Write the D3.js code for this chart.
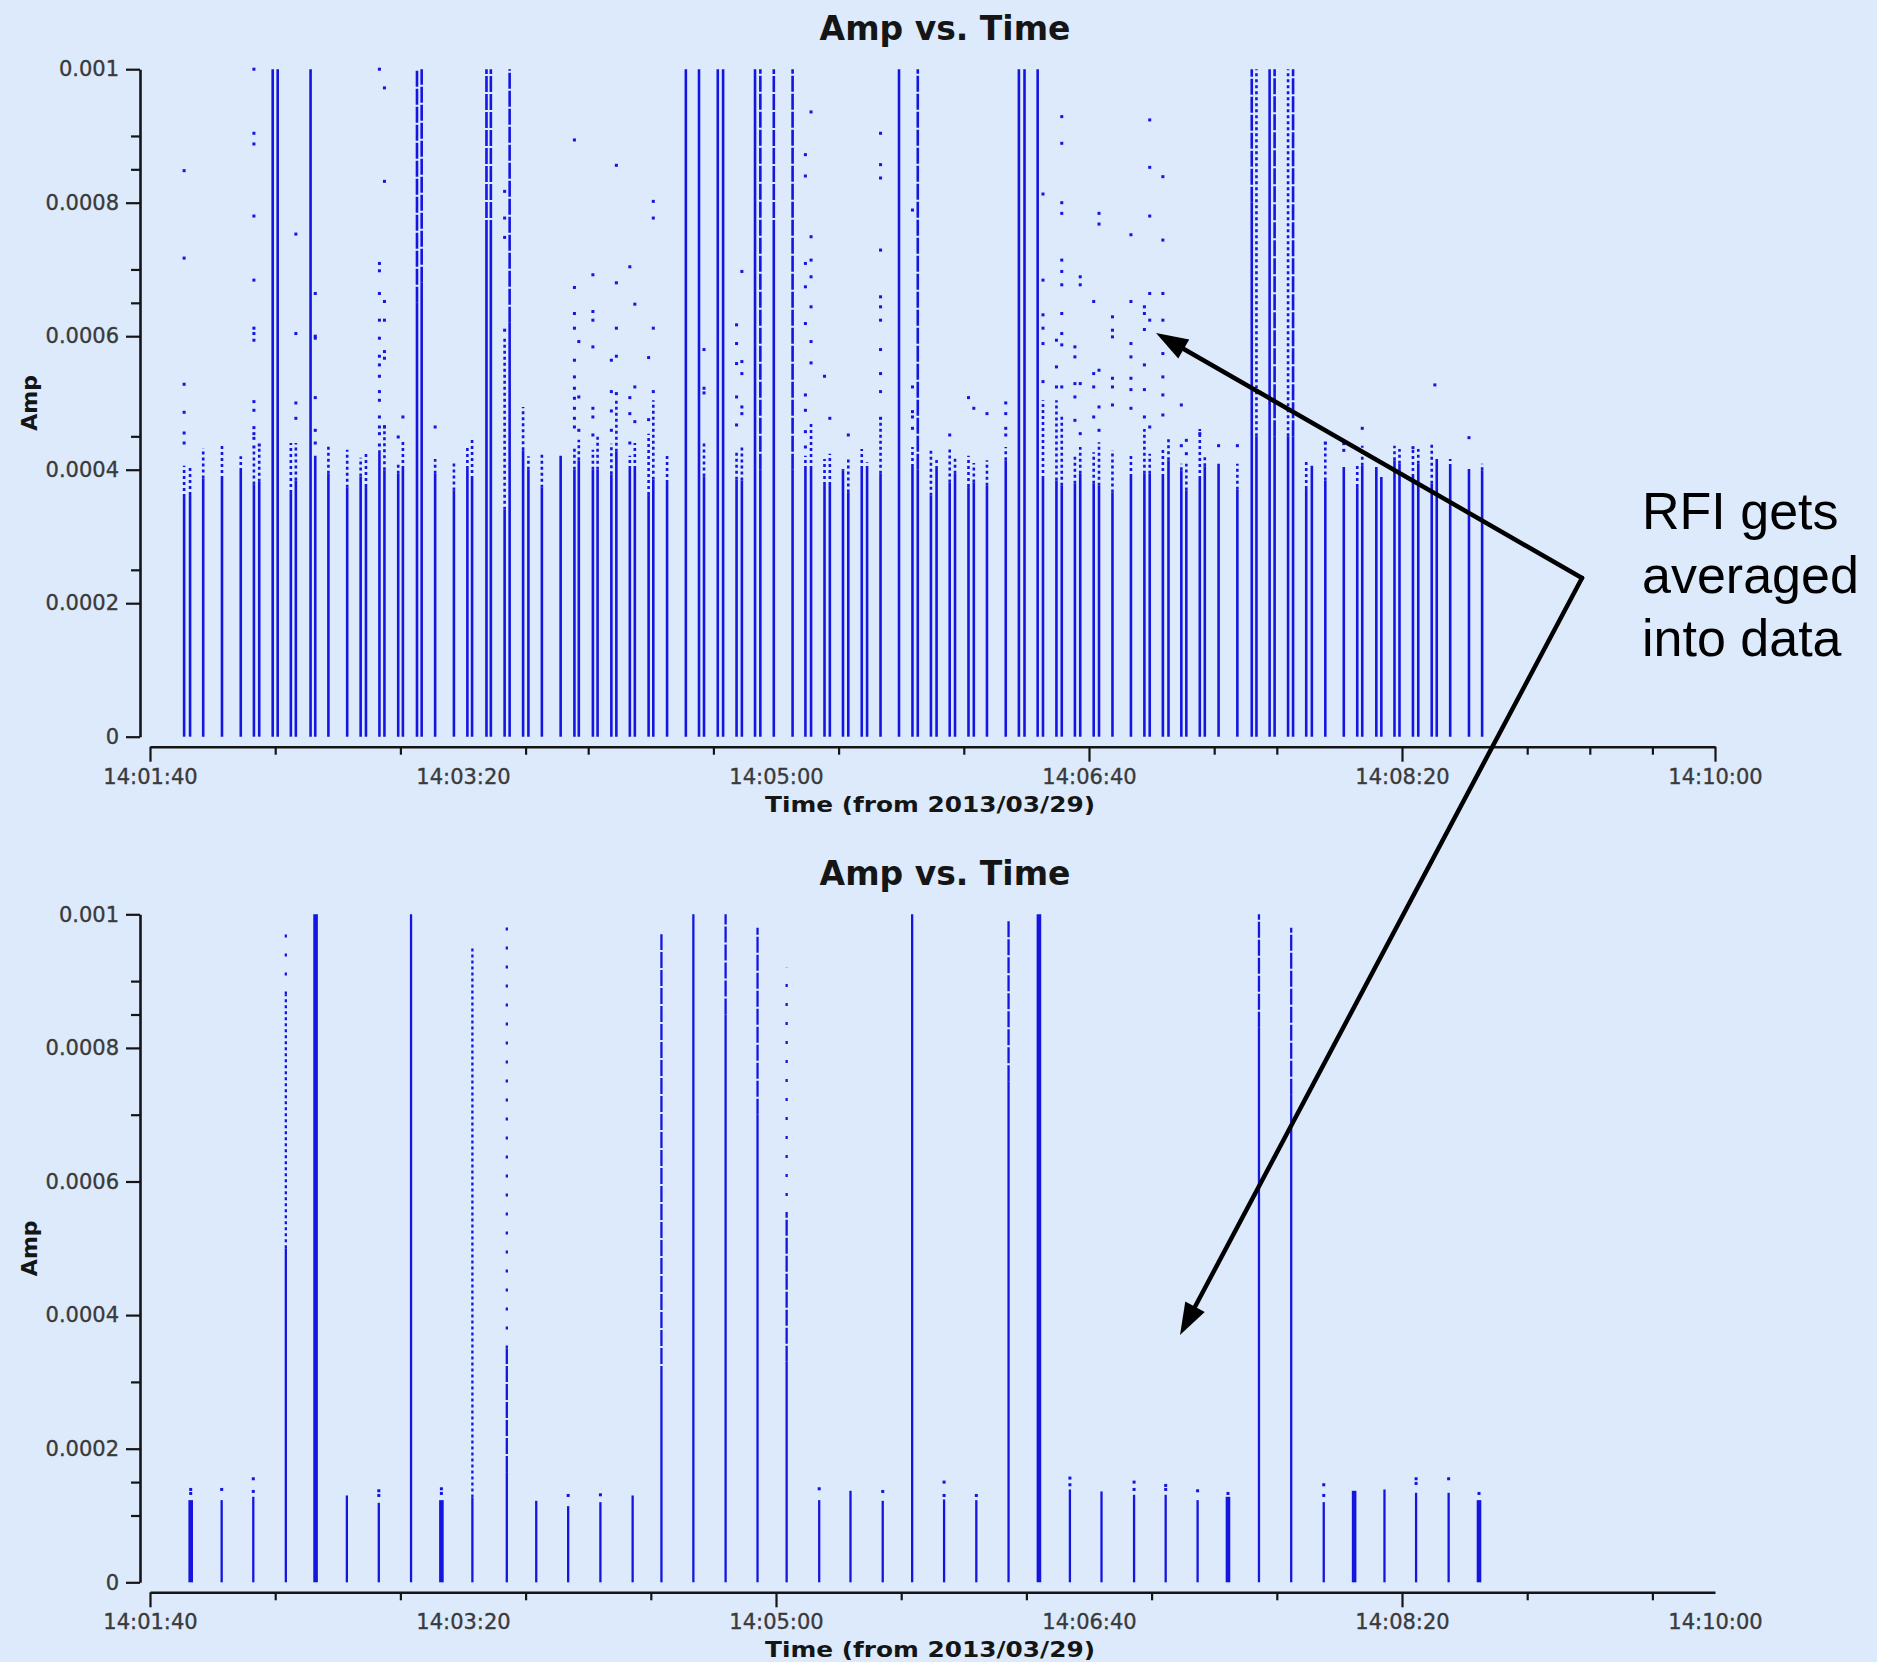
<!DOCTYPE html>
<html>
<head>
<meta charset="utf-8">
<script src="https://cdn.jsdelivr.net/npm/d3@7"></script>
<style>
  html, body { margin: 0; padding: 0; background: #dceafc; }
  svg { display: block; }
</style>
</head>
<body>
<svg id="chart" width="1877" height="1662"></svg>
<script>
// Time is given in seconds after 14:01:40 (2013/03/29).
const timeLabelSec = [0, 100, 200, 300, 400, 500];
const timeLabels = ["14:01:40", "14:03:20", "14:05:00", "14:06:40", "14:08:20", "14:10:00"];
const topMajorXTicks = [0, 300, 400, 500];
const topMinorXTicks = [40, 80, 120, 140, 180, 220, 260, 340, 360, 440, 460, 480];
const botMajorXTicks = [0, 200, 400];
const botMinorXTicks = [40, 80, 120, 160, 240, 280, 320, 360, 440, 480];

const yMajorTicks = [0, 0.0002, 0.0004, 0.0006, 0.0008, 0.001];
const yMajorLabels = ["0", "0.0002", "0.0004", "0.0006", "0.0008", "0.001"];
const topYMinorTicks = [0.00025, 0.00045, 0.00065, 0.0007, 0.00085, 0.0009];
const botYMinorTicks = [0.0001, 0.00015, 0.0003, 0.0007, 0.00085, 0.0009];

// Unaveraged data: [time, top of solid run, top of dotted run]
const topColumns = [
  [10.9, 0.000359, 0.000406], [12.8, 0.000362, 0.000405], [17.0, 0.000387, 0.000432],
  [23.0, 0.000386, 0.00044], [29.0, 0.000398, 0.00042], [33.2, 0.000378, 0.00043],
  [34.9, 0.000382, 0.000437], [45.0, 0.000365, 0.00044], [46.6, 0.000384, 0.00044],
  [52.8, 0.000421, 0.000421], [57.0, 0.000394, 0.000437], [63.0, 0.000373, 0.00043],
  [67.3, 0.00039, 0.000418], [69.0, 0.000374, 0.000425], [73.3, 0.000429, 0.000429],
  [74.9, 0.000399, 0.000469], [79.3, 0.000394, 0.000411], [80.8, 0.000401, 0.000444],
  [91.1, 0.000394, 0.000416], [97.1, 0.000369, 0.000411], [101.4, 0.000401, 0.000436],
  [102.9, 0.000386, 0.000445], [113.3, 0.00034, 0.0006], [119.2, 0.000429, 0.000494],
  [120.9, 0.0004, 0.00042], [125.2, 0.000373, 0.000424], [131.2, 0.000421, 0.000421],
  [135.6, 0.0004, 0.000432], [137.0, 0.000414, 0.000445], [141.5, 0.0004, 0.00043],
  [143.0, 0.0004, 0.000452], [147.4, 0.000393, 0.000439], [149.0, 0.000427, 0.000504],
  [153.3, 0.000401, 0.000421], [154.9, 0.000401, 0.00044], [159.3, 0.000362, 0.000454],
  [160.8, 0.000385, 0.000504], [165.2, 0.00038, 0.000425], [177.0, 0.00039, 0.000442],
  [187.4, 0.000385, 0.000427], [189.1, 0.000384, 0.000434], [209.4, 0.000401, 0.000421],
  [211.2, 0.000401, 0.000469], [215.5, 0.000377, 0.000416], [217.2, 0.000377, 0.000424],
  [221.4, 0.000399, 0.000401], [223.1, 0.000366, 0.000416], [227.4, 0.000401, 0.000431],
  [229.1, 0.000401, 0.000411], [233.4, 0.000394, 0.000475], [243.6, 0.000404, 0.000434],
  [249.5, 0.000361, 0.000429], [251.3, 0.000401, 0.000415], [255.5, 0.000381, 0.000434],
  [257.2, 0.000394, 0.000421], [261.5, 0.000374, 0.000421], [263.2, 0.000381, 0.00041],
  [267.4, 0.000376, 0.000414], [273.4, 0.000414, 0.000434], [285.3, 0.000386, 0.000504],
  [289.6, 0.000384, 0.000504], [291.3, 0.000376, 0.000484], [295.5, 0.000379, 0.000421],
  [297.2, 0.000394, 0.000434], [301.5, 0.000379, 0.000426], [303.2, 0.000376, 0.000441],
  [307.5, 0.000366, 0.000429], [313.4, 0.000389, 0.000424], [317.7, 0.000394, 0.000461],
  [319.4, 0.000394, 0.000424], [323.6, 0.000389, 0.000434], [325.4, 0.000414, 0.000449],
  [329.5, 0.000399, 0.000409], [331.1, 0.000369, 0.000409], [335.4, 0.000386, 0.000461],
  [337.0, 0.000405, 0.00042], [341.4, 0.000409, 0.000409], [347.4, 0.00037, 0.000409],
  [369.4, 0.000371, 0.000416], [371.2, 0.000406, 0.000406], [375.5, 0.000384, 0.000441],
  [381.4, 0.000404, 0.000404], [385.7, 0.000374, 0.000409], [387.3, 0.000406, 0.000436],
  [391.8, 0.000404, 0.000404], [393.4, 0.000389, 0.000389], [397.6, 0.000414, 0.000436],
  [399.2, 0.000409, 0.000431], [403.5, 0.000389, 0.000431], [405.2, 0.000409, 0.000431],
  [409.5, 0.000379, 0.000441], [411.1, 0.000416, 0.000416], [415.4, 0.000404, 0.000416],
  [421.4, 0.000401, 0.000401], [425.6, 0.000399, 0.000409]
];

// RFI-hit integrations running off the top: [time, solid up to, style above]
const topSpikes = [
  [39.2, 0.001, "solid"], [40.8, 0.001, "solid"], [51.3, 0.001, "solid"],
  [85.3, 0.00065, "dashed"], [86.8, 0.00068, "dashed"],
  [107.5, 0.00075, "dashed"], [108.9, 0.00075, "dashed"], [114.9, 0.00062, "dashed"],
  [171.2, 0.001, "solid"], [175.4, 0.001, "solid"], [181.4, 0.001, "solid"], [183.1, 0.001, "solid"],
  [193.3, 0.001, "solid"], [195.0, 0.0004, "dashed"], [199.3, 0.00075, "dashed"], [205.3, 0.0004, "dashed"],
  [239.3, 0.001, "solid"], [245.3, 0.0004, "dashed"],
  [277.6, 0.001, "solid"], [279.4, 0.001, "solid"], [283.6, 0.001, "solid"],
  [352.0, 0.0008, "dashed"], [353.5, 0.00045, "dotted"], [357.7, 0.001, "solid"],
  [359.3, 0.00045, "dashed"], [363.6, 0.00045, "dotted"], [365.2, 0.00045, "dashed"]
];

// Isolated points above the dotted runs: [time, amp]
const topDots = [
  [10.9, 0.000848], [10.9, 0.000717], [10.9, 0.000528], [10.9, 0.000486], [10.9, 0.000455], [10.9, 0.00044],
  [33.2, 0.001], [33.2, 0.000904], [33.2, 0.000888], [33.2, 0.00078], [33.2, 0.000684], [33.2, 0.000612],
  [33.2, 0.000604], [33.2, 0.000594], [33.2, 0.000502], [33.2, 0.000489], [33.2, 0.000463], [33.2, 0.000454],
  [33.2, 0.000447], [33.2, 0.000434], [34.9, 0.000437],
  [46.6, 0.000753], [46.6, 0.000604], [46.6, 0.0005], [46.6, 0.000477],
  [52.8, 0.000664], [52.8, 0.0006], [52.8, 0.000597], [52.8, 0.000508], [52.8, 0.000459], [52.8, 0.00044],
  [73.3, 0.001], [73.3, 0.000709], [73.3, 0.000698], [73.3, 0.000664], [73.3, 0.000624], [73.3, 0.000597],
  [73.3, 0.00057], [73.3, 0.000557], [73.3, 0.00054], [73.3, 0.000517], [73.3, 0.000504], [73.3, 0.000479],
  [73.3, 0.000464], [73.3, 0.000454], [73.3, 0.000437],
  [74.9, 0.000972], [74.9, 0.000832], [74.9, 0.000652], [74.9, 0.000624], [74.9, 0.000577], [74.9, 0.000567], [74.9, 0.000464],
  [79.3, 0.000449], [80.8, 0.000479], [91.1, 0.000464],
  [113.3, 0.000817], [113.3, 0.000777], [113.3, 0.000748], [113.3, 0.000609],
  [135.6, 0.000894], [135.6, 0.000673], [135.6, 0.000634], [135.6, 0.000612], [135.6, 0.000564], [135.6, 0.000539],
  [135.6, 0.000522], [135.6, 0.000507], [135.6, 0.000492], [135.6, 0.000477], [135.6, 0.000464],
  [137.0, 0.000592], [137.0, 0.000509], [137.0, 0.000459],
  [141.5, 0.000692], [141.5, 0.000637], [141.5, 0.000624], [141.5, 0.000584], [141.5, 0.000492], [141.5, 0.000479], [141.5, 0.000452],
  [147.4, 0.000564], [147.4, 0.000517], [147.4, 0.000488], [147.4, 0.000459],
  [149.0, 0.000856], [149.0, 0.00068], [149.0, 0.000612], [149.0, 0.00057], [149.0, 0.000514],
  [153.3, 0.000704], [153.3, 0.000508], [153.3, 0.000484], [153.3, 0.00044],
  [154.9, 0.000648], [154.9, 0.000524], [154.9, 0.000472],
  [159.3, 0.000568], [159.3, 0.000475],
  [160.8, 0.000802], [160.8, 0.000777], [160.8, 0.000612], [160.8, 0.000517],
  [177.0, 0.00058], [177.0, 0.000522], [177.0, 0.000515],
  [187.4, 0.000617], [187.4, 0.000589], [187.4, 0.000559], [187.4, 0.000509], [187.4, 0.000467],
  [189.1, 0.000697], [189.1, 0.000562], [189.1, 0.000544], [189.1, 0.000494], [189.1, 0.000484],
  [209.4, 0.000872], [209.4, 0.00084], [209.4, 0.000709], [209.4, 0.000674], [209.4, 0.000619], [209.4, 0.000512],
  [209.4, 0.000489], [209.4, 0.000457], [209.4, 0.000434],
  [211.2, 0.000936], [211.2, 0.000749], [211.2, 0.000714], [211.2, 0.000689], [211.2, 0.000644], [211.2, 0.000592], [211.2, 0.00056],
  [215.5, 0.00054], [217.2, 0.000477], [223.1, 0.000452],
  [233.4, 0.000904], [233.4, 0.000857], [233.4, 0.000837], [233.4, 0.000729], [233.4, 0.000659], [233.4, 0.000644],
  [233.4, 0.000624], [233.4, 0.00058], [233.4, 0.000544], [233.4, 0.000517], [233.4, 0.000477],
  [243.6, 0.000789], [243.6, 0.000524], [243.6, 0.000487], [243.6, 0.000479], [243.6, 0.000462],
  [255.5, 0.000452], [261.5, 0.000508], [263.2, 0.000492], [267.4, 0.000484],
  [273.4, 0.0005], [273.4, 0.000484], [273.4, 0.000462], [273.4, 0.000452],
  [285.3, 0.000813], [285.3, 0.000684], [285.3, 0.000632], [285.3, 0.000612], [285.3, 0.000589], [285.3, 0.000532],
  [289.6, 0.000594], [289.6, 0.000554], [289.6, 0.000524],
  [291.3, 0.000929], [291.3, 0.000889], [291.3, 0.0008], [291.3, 0.000784], [291.3, 0.000714], [291.3, 0.000697],
  [291.3, 0.000677], [291.3, 0.000634], [291.3, 0.000604], [291.3, 0.000587], [291.3, 0.000524],
  [295.5, 0.000584], [295.5, 0.000569], [295.5, 0.000529], [295.5, 0.000509], [295.5, 0.000474],
  [297.2, 0.000689], [297.2, 0.000677], [297.2, 0.000529], [297.2, 0.000454],
  [301.5, 0.000652], [301.5, 0.000544], [301.5, 0.000524], [301.5, 0.000479],
  [303.2, 0.000784], [303.2, 0.000768], [303.2, 0.000549], [303.2, 0.000494], [303.2, 0.000459],
  [307.5, 0.000629], [307.5, 0.000609], [307.5, 0.000599], [307.5, 0.000537], [307.5, 0.000524], [307.5, 0.000497],
  [313.4, 0.000752], [313.4, 0.000652], [313.4, 0.000589], [313.4, 0.000569], [313.4, 0.000537], [313.4, 0.00052], [313.4, 0.000492],
  [317.7, 0.000644], [317.7, 0.000634], [317.7, 0.00061], [317.7, 0.000557], [317.7, 0.00052], [317.7, 0.000479],
  [319.4, 0.000924], [319.4, 0.000853], [319.4, 0.00078], [319.4, 0.000664], [319.4, 0.000624], [319.4, 0.000464],
  [323.6, 0.000839], [323.6, 0.000744], [323.6, 0.000664], [323.6, 0.000624], [323.6, 0.000574], [323.6, 0.000539],
  [323.6, 0.000512], [323.6, 0.000482],
  [329.5, 0.000497], [329.5, 0.000436], [331.1, 0.000444], [331.1, 0.000424], [335.4, 0.000454],
  [341.4, 0.000436], [347.4, 0.000436], [375.5, 0.00044], [381.4, 0.000429], [381.4, 0.000439],
  [387.3, 0.000462], [403.5, 0.000433], [410.5, 0.000527], [421.4, 0.000448]
];

// Averaged data: [time, top of solid run]
const botColumns = [
  [13.0, 0.000123], [22.9, 0.000123], [33.0, 0.000128], [43.4, 0.0005], [52.9, 0.001],
  [62.9, 0.00013], [73.1, 0.000119], [83.4, 0.001], [93.1, 0.000123], [103.0, 0.000127],
  [114.0, 0.000165], [123.4, 0.000122], [133.6, 0.000114], [143.9, 0.00012], [154.2, 0.00013],
  [163.4, 0.0003], [173.6, 0.001], [183.9, 0.00085], [194.1, 0.0007], [203.4, 0.00033],
  [213.8, 0.000123], [223.8, 0.000137], [234.1, 0.000122], [243.5, 0.001], [253.7, 0.000124],
  [264.0, 0.000123], [274.3, 0.00075], [284.0, 0.001], [293.9, 0.000139], [304.0, 0.000136],
  [314.4, 0.000131], [324.5, 0.000131], [334.7, 0.000123], [344.4, 0.000128], [354.3, 0.00083],
  [364.6, 0.00073], [375.0, 0.00012], [384.7, 0.000137], [394.4, 0.000139], [404.5, 0.000134],
  [414.9, 0.000134], [424.6, 0.000123]
];
const botThickTimes = [13.0, 52.9, 93.1, 284.0, 344.4, 384.7, 424.6];

// Broken runs above the solid part: [time, from, to, style]
const botUpper = [
  [43.4, 0.0005, 0.00088, "dotted"], [43.4, 0.00088, 0.00098, "sparse"],
  [103.0, 0.000127, 0.00095, "dotted"],
  [114.0, 0.000165, 0.00035, "dashed"], [114.0, 0.00035, 0.001, "sparse"],
  [163.4, 0.0003, 0.00097, "dashed"],
  [183.9, 0.00085, 0.001, "dashed"],
  [194.1, 0.0007, 0.00098, "dashed"],
  [203.4, 0.00033, 0.00055, "dashed"], [203.4, 0.00055, 0.00092, "sparse"],
  [274.3, 0.00075, 0.00099, "dashed"],
  [354.3, 0.00083, 0.001, "dashed"],
  [364.6, 0.00073, 0.00098, "dashed"]
];

const botDots = [
  [13.0, 0.000133], [13.0, 0.000139], [22.9, 0.000139], [33.0, 0.000136], [33.0, 0.000155],
  [73.1, 0.00013], [73.1, 0.000137], [93.1, 0.000133], [93.1, 0.00014], [133.6, 0.00013],
  [143.9, 0.000131], [213.8, 0.00014], [234.1, 0.000136], [253.7, 0.00013], [253.7, 0.00015],
  [264.0, 0.00013], [293.9, 0.000146], [293.9, 0.000156], [314.4, 0.000139], [314.4, 0.00015],
  [324.5, 0.000139], [324.5, 0.000145], [334.7, 0.000137], [344.4, 0.000133], [375.0, 0.00013],
  [375.0, 0.000146], [404.5, 0.000148], [404.5, 0.000155], [414.9, 0.000155], [424.6, 0.000133]
];

const BLUE = "#1515e0";
const INK = "#151515";
const dashStyles = { solid: null, dashed: "16,2", dotted: "3,3", sparse: "3,16" };

const svg = d3.select("#chart");
const x = d3.scaleLinear().domain([0, 500]).range([150, 1715]);

function drawPanel(p) {
  const y = d3.scaleLinear().domain([0, 0.001]).range([p.zeroY, p.topY]);
  const g = svg.append("g");

  // title
  g.append("text")
    .attr("x", 945).attr("y", p.topY - 29.3)
    .attr("text-anchor", "middle")
    .attr("font-family", "DejaVu Sans").attr("font-weight", "bold")
    .attr("font-size", 33).attr("fill", INK)
    .text("Amp vs. Time");

  // y axis
  const yMaj = g.append("g").attr("transform", "translate(140,0)")
    .call(d3.axisLeft(y).tickValues(yMajorTicks).tickSize(14).tickSizeOuter(0).tickPadding(7)
      .tickFormat((d, i) => yMajorLabels[i]));
  const yMin = g.append("g").attr("transform", "translate(140,0)")
    .call(d3.axisLeft(y).tickValues(p.yMinor).tickSize(9).tickSizeOuter(0).tickFormat(""));
  yMin.select(".domain").remove();

  // x axis
  const xMaj = g.append("g").attr("transform", `translate(0,${p.axisY})`)
    .call(d3.axisBottom(x).tickValues(p.xMajor).tickSize(15).tickSizeOuter(0).tickFormat(""));
  const xMin = g.append("g").attr("transform", `translate(0,${p.axisY})`)
    .call(d3.axisBottom(x).tickValues(p.xMinor).tickSize(8).tickSizeOuter(0).tickFormat(""));
  xMin.select(".domain").remove();
  const xLab = g.append("g").attr("transform", `translate(0,${p.axisY})`)
    .call(d3.axisBottom(x).tickValues(timeLabelSec).tickSize(0).tickPadding(22)
      .tickFormat((d, i) => timeLabels[i]));
  xLab.select(".domain").remove();

  [yMaj, yMin, xMaj, xMin, xLab].forEach(a => {
    a.selectAll(".domain").attr("stroke", INK).attr("stroke-width", 2.6);
    a.selectAll(".tick line").attr("stroke", INK).attr("stroke-width", 2.2);
    a.selectAll("text").attr("font-family", "DejaVu Sans").attr("font-size", 21)
      .attr("fill", "#3a3a3a").attr("stroke", "#3a3a3a").attr("stroke-width", 0.35);
  });

  // axis titles
  g.append("text")
    .attr("x", 930).attr("y", p.axisY + 65)
    .attr("text-anchor", "middle")
    .attr("font-family", "DejaVu Sans").attr("font-weight", "bold")
    .attr("font-size", 22).attr("fill", INK)
    .attr("textLength", 330).attr("lengthAdjust", "spacingAndGlyphs")
    .text("Time (from 2013/03/29)");
  g.append("text")
    .attr("transform", `translate(37,${(p.zeroY + p.topY) / 2}) rotate(-90)`)
    .attr("text-anchor", "middle")
    .attr("font-family", "DejaVu Sans").attr("font-weight", "bold")
    .attr("font-size", 22).attr("fill", INK)
    .text("Amp");

  return { g, y };
}

function seg(g, data, width, dashKey) {
  g.append("g").selectAll("line").data(data).join("line")
    .attr("x1", d => d.x).attr("x2", d => d.x)
    .attr("y1", d => d.y1).attr("y2", d => d.y2)
    .attr("stroke", BLUE).attr("stroke-width", d => d.w || width)
    .attr("stroke-dasharray", d => dashStyles[d.style || dashKey]);
}

function dots(g, data, x, y) {
  g.append("g").selectAll("rect").data(data).join("rect")
    .attr("x", d => x(d[0]) - 1.5).attr("y", d => y(d[1]) - 1.5)
    .attr("width", 3).attr("height", 3).attr("fill", BLUE);
}

// ---- upper panel: before averaging ----
{
  const { g, y } = drawPanel({
    zeroY: 736.7, topY: 69.2, axisY: 746.7,
    xMajor: topMajorXTicks, xMinor: topMinorXTicks, yMinor: topYMinorTicks
  });
  const data = g.append("g");
  seg(data, topColumns.map(d => ({ x: x(d[0]), y1: y(0), y2: y(d[1]) })), 2.6, "solid");
  seg(data, topColumns.filter(d => d[2] > d[1])
    .map(d => ({ x: x(d[0]), y1: y(d[1]), y2: y(d[2]) })), 2.6, "dotted");
  seg(data, topSpikes.map(d => ({ x: x(d[0]), y1: y(0), y2: y(d[1]) })), 2.6, "solid");
  seg(data, topSpikes.filter(d => d[1] < 0.001)
    .map(d => ({ x: x(d[0]), y1: y(d[1]), y2: y(0.001), style: d[2] })), 2.6, "dashed");
  dots(data, topDots, x, y);
}

// ---- lower panel: after averaging ----
{
  const { g, y } = drawPanel({
    zeroY: 1582.3, topY: 914.3, axisY: 1592.3,
    xMajor: botMajorXTicks, xMinor: botMinorXTicks, yMinor: botYMinorTicks
  });
  const data = g.append("g");
  seg(data, botColumns.map(d => ({
    x: x(d[0]), y1: y(0), y2: y(d[1]),
    w: botThickTimes.includes(d[0]) ? 4.6 : 2.3
  })), 2.3, "solid");
  seg(data, botUpper.map(d => ({ x: x(d[0]), y1: y(d[1]), y2: y(d[2]), style: d[3] })), 2.3, "dashed");
  dots(data, botDots, x, y);
}

// ---- annotation ----
{
  const a = svg.append("g");
  const vertex = [1582, 578];
  const tips = [[1156, 333], [1180, 1335]];
  tips.forEach(t => {
    const ang = Math.atan2(t[1] - vertex[1], t[0] - vertex[0]);
    const L = 32, W = 11;
    const bx = t[0] - L * Math.cos(ang), by = t[1] - L * Math.sin(ang);
    a.append("line")
      .attr("x1", vertex[0]).attr("y1", vertex[1]).attr("x2", bx).attr("y2", by)
      .attr("stroke", "#000").attr("stroke-width", 4.5).attr("stroke-linecap", "round");
    a.append("path")
      .attr("d", d3.line()([
        t,
        [bx + W * Math.sin(ang), by - W * Math.cos(ang)],
        [bx - W * Math.sin(ang), by + W * Math.cos(ang)]
      ]) + "Z")
      .attr("fill", "#000");
  });
  const lines = ["RFI gets", "averaged", "into data"];
  a.selectAll("text.note").data(lines).join("text")
    .attr("class", "note")
    .attr("x", 1642).attr("y", (d, i) => 529 + i * 63.7)
    .attr("font-family", "Liberation Sans, Arial, sans-serif")
    .attr("font-size", 52).attr("fill", "#000")
    .text(d => d);
}
</script>
</body>
</html>
